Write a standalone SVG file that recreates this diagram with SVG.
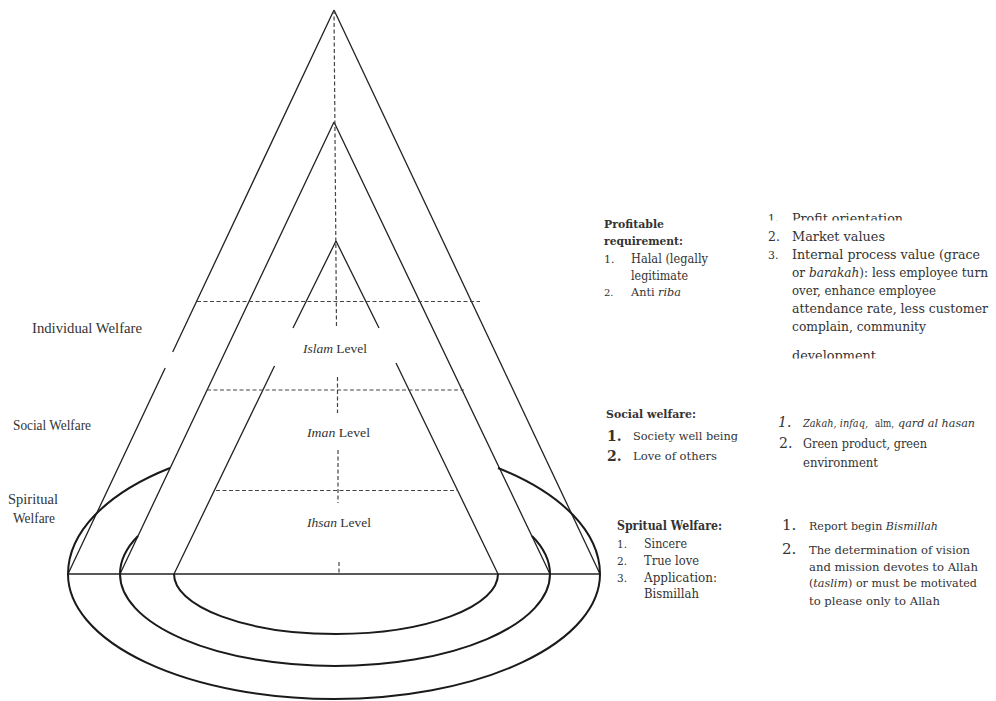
<svg xmlns="http://www.w3.org/2000/svg" width="996" height="701" viewBox="0 0 996 701">
<defs>
<style>
.ln{stroke:#222;stroke-width:1.3;fill:none}
.el{stroke:#1a1a1a;stroke-width:2;fill:none}
.dash{stroke:#444;stroke-width:1.2;stroke-dasharray:4 2.5;fill:none}
.ls{font-family:"Liberation Serif","Times New Roman",serif;fill:#333}
.ds{font-family:"DejaVu Serif","Liberation Serif",serif;fill:#333}
.b{font-weight:bold}
.i{font-style:italic}
</style>
<clipPath id="clipTop"><rect x="760" y="200" width="236" height="20.5"/></clipPath>
<clipPath id="clipBottom"><rect x="760" y="340" width="236" height="18.5"/></clipPath>
</defs>
<rect width="996" height="701" fill="#fff"/>

<g id="cones">
<g id="outer-cone">
<path class="ln" d="M334,10 L172.7,352 M165.2,368 L68,574"/>
<path class="ln" d="M334,10 L600,574"/>
</g>
<g id="middle-cone">
<path class="ln" d="M334,122 L120,574 M334,122 L550,574"/>
</g>
<g id="inner-cone">
<path class="ln" d="M336,241 L293,328 M274.5,366 L174,574"/>
<path class="ln" d="M336,241 L379,328 M396,363 L498,574"/>
</g>
<path id="base-line" class="ln" d="M68,574 L600,574"/>
</g>

<g id="rings">
<g id="outer-ring">
<path class="el" d="M170,468 A266,135 0 0 0 68,574"/>
<path class="el" d="M498,468 A266,135 0 0 1 600,574"/>
<path class="el" d="M68,574 A266,125 0 0 0 600,574"/>
</g>
<g id="middle-ring">
<path class="el" d="M138,536 A215,95 0 0 0 120,574"/>
<path class="el" d="M532,536 A215,95 0 0 1 550,574"/>
<path class="el" d="M120,574 A215,92 0 0 0 550,574"/>
</g>
<g id="inner-ring">
<path class="el" d="M174,574 A162,60 0 0 0 498,574"/>
</g>
</g>

<g id="connectors">
<path class="dash" d="M334,10 L336.5,328"/>
<path class="dash" d="M337.5,377 L337.5,413"/>
<path class="dash" d="M338,450 L338,503"/>
<path class="dash" d="M339,562 L339,574"/>
<path class="dash" d="M197,301.5 L480,301.5"/>
<path class="dash" d="M207,390 L464,390"/>
<path class="dash" d="M216,490.5 L458,490.5"/>
</g>

<g id="level-islam"><text class="ls" x="303" y="352.5" font-size="13.5" textLength="64" lengthAdjust="spacingAndGlyphs"><tspan class="i">Islam</tspan> Level</text></g>
<g id="level-iman"><text class="ls" x="307" y="437" font-size="13.5" textLength="63" lengthAdjust="spacingAndGlyphs"><tspan class="i">Iman</tspan> Level</text></g>
<g id="level-ihsan"><text class="ls" x="307" y="526.5" font-size="13.5" textLength="64" lengthAdjust="spacingAndGlyphs"><tspan class="i">Ihsan</tspan> Level</text></g>

<g id="label-individual"><text class="ls" x="32" y="333" font-size="14" textLength="110" lengthAdjust="spacingAndGlyphs">Individual Welfare</text></g>
<g id="label-social"><text class="ls" x="13" y="430" font-size="14" textLength="78" lengthAdjust="spacingAndGlyphs">Social Welfare</text></g>
<g id="label-spiritual">
<text class="ls" x="8" y="504" font-size="14" textLength="50" lengthAdjust="spacingAndGlyphs">Spiritual</text>
<text class="ls" x="13" y="523" font-size="14" textLength="42" lengthAdjust="spacingAndGlyphs">Welfare</text>
</g>

<g id="profitable-requirement">
<text class="ds b" x="604" y="227.5" font-size="11" textLength="60" lengthAdjust="spacingAndGlyphs">Profitable</text>
<text class="ds b" x="604" y="245" font-size="11" textLength="79" lengthAdjust="spacingAndGlyphs">requirement:</text>
<text class="ds" x="604" y="262.5" font-size="11">1.</text>
<text class="ds" x="631" y="262.5" font-size="12" textLength="77" lengthAdjust="spacingAndGlyphs">Halal (legally</text>
<text class="ds" x="631" y="279.5" font-size="12" textLength="57" lengthAdjust="spacingAndGlyphs">legitimate</text>
<text class="ds" x="604" y="295.5" font-size="10">2.</text>
<text class="ds" x="631" y="295.5" font-size="10.5" textLength="50" lengthAdjust="spacingAndGlyphs">Anti <tspan class="i">riba</tspan></text>
</g>

<g id="profit-values">
<g clip-path="url(#clipTop)">
<text class="ds" x="768" y="221.5" font-size="11">1.</text>
<text class="ds" x="792" y="222.5" font-size="12.5" textLength="111" lengthAdjust="spacingAndGlyphs">Profit orientation</text>
</g>
<text class="ds" x="768" y="241" font-size="12.5">2.</text>
<text class="ds" x="792" y="241" font-size="12.5" textLength="93" lengthAdjust="spacingAndGlyphs">Market values</text>
<text class="ds" x="768" y="259" font-size="11">3.</text>
<text class="ds" x="792" y="259" font-size="12.5" textLength="188" lengthAdjust="spacingAndGlyphs">Internal process value (grace</text>
<text class="ds" x="792" y="277" font-size="12.5" textLength="196" lengthAdjust="spacingAndGlyphs">or <tspan class="i">barakah</tspan>): less employee turn</text>
<text class="ds" x="792" y="295" font-size="12.5" textLength="144" lengthAdjust="spacingAndGlyphs">over,  enhance employee</text>
<text class="ds" x="792" y="313" font-size="12.5" textLength="196" lengthAdjust="spacingAndGlyphs">attendance rate, less customer</text>
<text class="ds" x="792" y="331" font-size="12.5" textLength="134" lengthAdjust="spacingAndGlyphs">complain, community</text>
<g clip-path="url(#clipBottom)">
<text class="ds" x="792" y="360" font-size="12.5" textLength="84" lengthAdjust="spacingAndGlyphs">development</text>
</g>
</g>

<g id="social-welfare">
<text class="ds b" x="606" y="417.5" font-size="11.5" textLength="90" lengthAdjust="spacingAndGlyphs">Social welfare:</text>
<text class="ds b" x="607" y="440.5" font-size="14">1.</text>
<text class="ds" x="633" y="440" font-size="11" textLength="105" lengthAdjust="spacingAndGlyphs">Society well being</text>
<text class="ds b" x="607" y="460.5" font-size="14">2.</text>
<text class="ds" x="633" y="460" font-size="11" textLength="84" lengthAdjust="spacingAndGlyphs">Love of others</text>
</g>

<g id="social-values">
<text class="ds i" x="778" y="427" font-size="14">1.</text>
<text class="ds i" x="803" y="427" font-size="11" textLength="65" lengthAdjust="spacingAndGlyphs">Zakah, infaq,</text>
<text class="ds" x="875" y="427" font-size="11" textLength="19" lengthAdjust="spacingAndGlyphs">alm,</text>
<text class="ds i" x="898" y="427" font-size="11" textLength="77" lengthAdjust="spacingAndGlyphs">qard al hasan</text>
<text class="ds" x="779" y="448" font-size="14">2.</text>
<text class="ds" x="803" y="448" font-size="12" textLength="124" lengthAdjust="spacingAndGlyphs">Green product, green</text>
<text class="ds" x="803" y="466.5" font-size="12" textLength="75" lengthAdjust="spacingAndGlyphs">environment</text>
</g>

<g id="spiritual-welfare">
<text class="ds b" x="617" y="530" font-size="12" textLength="105" lengthAdjust="spacingAndGlyphs">Spritual Welfare:</text>
<text class="ds" x="617" y="548" font-size="10.5">1.</text>
<text class="ds" x="644" y="548" font-size="12" textLength="43" lengthAdjust="spacingAndGlyphs">Sincere</text>
<text class="ds" x="617" y="565" font-size="10.5">2.</text>
<text class="ds" x="644" y="565" font-size="12" textLength="55" lengthAdjust="spacingAndGlyphs">True love</text>
<text class="ds" x="617" y="581.5" font-size="10.5">3.</text>
<text class="ds" x="644" y="581.5" font-size="12" textLength="73" lengthAdjust="spacingAndGlyphs">Application:</text>
<text class="ds" x="644" y="598" font-size="12" textLength="55" lengthAdjust="spacingAndGlyphs">Bismillah</text>
</g>

<g id="spiritual-values">
<text class="ds" x="782" y="530" font-size="15">1.</text>
<text class="ds" x="809" y="530" font-size="11.5" textLength="129" lengthAdjust="spacingAndGlyphs">Report begin <tspan class="i">Bismillah</tspan></text>
<text class="ds" x="782" y="553.5" font-size="15">2.</text>
<text class="ds" x="809" y="553.5" font-size="11.5" textLength="161" lengthAdjust="spacingAndGlyphs">The determination of vision</text>
<text class="ds" x="809" y="570.5" font-size="11.5" textLength="169" lengthAdjust="spacingAndGlyphs">and mission devotes to Allah</text>
<text class="ds" x="809" y="587" font-size="11.5" textLength="168" lengthAdjust="spacingAndGlyphs">(<tspan class="i">taslim</tspan>) or must be motivated</text>
<text class="ds" x="809" y="605" font-size="11.5" textLength="131" lengthAdjust="spacingAndGlyphs">to please only to Allah</text>
</g>
</svg>
